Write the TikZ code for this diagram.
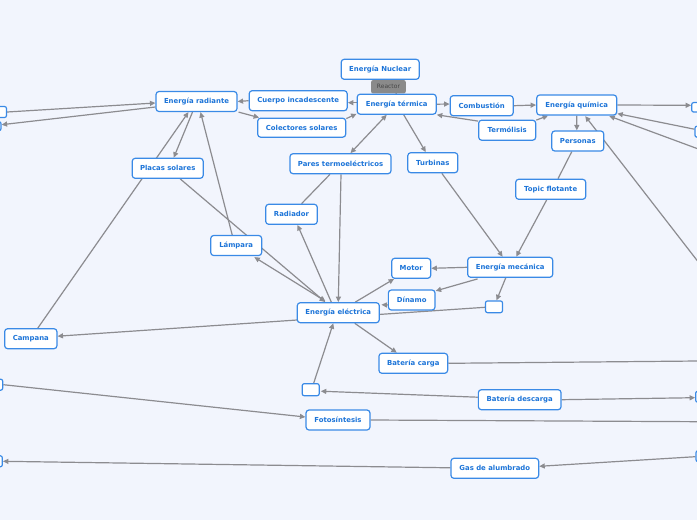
\documentclass[tikz,border=0pt]{standalone}
\usepackage{fontspec}
\setmainfont{DejaVu Sans}
\usetikzlibrary{arrows.meta,calc}
\definecolor{bgc}{RGB}{242,245,253}
\definecolor{nodeb}{RGB}{58,138,230}
\definecolor{nodet}{RGB}{28,116,216}
\definecolor{edgec}{RGB}{140,140,144}
\definecolor{reacf}{RGB}{138,138,138}
\definecolor{react}{RGB}{70,70,70}
\pgfdeclarelayer{bg}
\pgfdeclarelayer{edges}
\pgfsetlayers{bg,edges,main}
\begin{document}
\begin{tikzpicture}[x=1pt,y=-1pt,
 box/.style={draw=nodeb, line width=1.2pt, fill=white, rounded corners=3pt, inner sep=0pt, minimum height=20pt, text=nodet, font=\fontsize{6.9}{8}\selectfont\bfseries},
 tinybox/.style={draw=nodeb, line width=1.2pt, fill=white, rounded corners=2pt, inner sep=0pt, minimum width=17pt, minimum height=11pt},
 conn/.style={draw=edgec, line width=1.2pt},
 arr/.style={conn, -{Triangle[length=5.5pt,width=5pt]}},
 darr/.style={conn, {Triangle[length=5.5pt,width=5pt]}-{Triangle[length=5.5pt,width=5pt]}},
 reactor/.style={fill=reacf, rounded corners=2pt, text=react, font=\fontsize{6}{7}\selectfont, minimum width=34.6pt, minimum height=13.4pt, inner sep=0pt}
]
\useasboundingbox (0,0) rectangle (697,520);
\begin{pgfonlayer}{bg}
\fill[bgc] (0,0) rectangle (697,520);
\end{pgfonlayer}

\begin{scope}
\clip (0,0) rectangle (697,520);
\node[box, minimum width=78pt] (nuc) at (380.2,69.3) {Energía Nuclear};
\node[box, minimum width=81pt] (rad) at (196.5,101.5) {Energía radiante};
\node[box, minimum width=98pt] (cue) at (298.2,100.7) {Cuerpo incadescente};
\node[box, minimum width=88pt, minimum height=19pt] (col) at (301.7,127.7) {Colectores solares};
\node[box, minimum width=79pt] (ter) at (396.7,104.2) {Energía térmica};
\node[box, minimum width=63pt] (com) at (481.7,105.7) {Combustión};
\node[box, minimum width=80pt] (qui) at (576.7,105) {Energía química};
\node[box, minimum width=57pt] (tml) at (507.2,130.2) {Termólisis};
\node[box, minimum width=52pt] (per) at (577.8,141) {Personas};
\node[box, minimum width=101pt] (par) at (340.5,163.7) {Pares termoeléctricos};
\node[box, minimum width=50pt] (tur) at (432.8,162.7) {Turbinas};
\node[box, minimum width=71pt] (pla) at (167.7,168.3) {Placas solares};
\node[box, minimum width=70pt] (top) at (550.7,189.3) {Topic flotante};
\node[box, minimum width=51.6pt] (radr) at (291.5,214.3) {Radiador};
\node[box, minimum width=51pt] (lam) at (236.2,245.5) {Lámpara};
\node[box, minimum width=39pt] (mot) at (411.2,268.3) {Motor};
\node[box, minimum width=85pt] (mec) at (510.2,267.3) {Energía mecánica};
\node[box, minimum width=46.7pt] (din) at (411.7,300) {Dínamo};
\node[tinybox, minimum height=11.7pt] (sb1) at (494,306.8) {};
\node[box, minimum width=82pt] (ele) at (338.3,312.7) {Energía eléctrica};
\node[box, minimum width=52.3pt] (cam) at (30.8,338.7) {Campana};
\node[box, minimum width=68.7pt] (bca) at (413.3,363.3) {Batería carga};
\node[tinybox, minimum height=12pt] (sb2) at (310.7,389.7) {};
\node[box, minimum width=82.7pt] (bde) at (519.7,399.7) {Batería descarga};
\node[box, minimum width=64pt] (fot) at (338,420) {Fotosíntesis};
\node[box, minimum width=87.7pt] (gas) at (494.8,468.3) {Gas de alumbrado};
\node[tinybox] (L1) at (-2,112) {};
\node[tinybox, minimum height=9pt] (L2) at (-7.5,126.2) {};
\node[tinybox] (L3) at (-5.8,384.7) {};
\node[tinybox] (L4) at (-6.2,461.3) {};
\node[tinybox, minimum height=9.5pt] (R1) at (700.2,107.3) {};
\node[tinybox] (R2) at (703.5,131.7) {};
\node[tinybox] (R3) at (704.2,396.7) {};
\node[tinybox] (R4) at (704.5,456.2) {};
\end{scope}

\coordinate (RE1) at (720,157);
\coordinate (RE2) at (720,290);
\coordinate (RE3) at (720,360.8);
\coordinate (RE4) at (720,421.8);

\begin{pgfonlayer}{edges}
\clip (0,0) rectangle (697,520);
\draw[arr] (L1.east) -- ($(rad.west)+(0,1.5)$);
\draw[arr] ($(rad.west)+(0,5.5)$) -- ($(L2.east)+(0,-1.5)$);
\draw[arr] (cue.west) -- (rad.east);
\draw[arr] ($(rad.south east)+(1,0)$) -- ($(col.north west)+(2,0)$);
\draw[arr] ($(ter.west)+(0,-1.5)$) -- ($(cue.east)+(0,2)$);
\draw[arr] ($(col.north east)+(0,1)$) -- ($(ter.south west)+(0,-1)$);
\draw[conn] (nuc.south) -- node[reactor] (rea) {Reactor} (ter.north);
\draw[arr] (ter.east) -- ($(com.west)+(0,-1.7)$);
\draw[arr] (com.east) -- (qui.west);
\draw[arr] ($(tml.north west)+(0,1.5)$) -- (ter.south east);
\draw[arr] ($(tml.north east)+(0,0.5)$) -- ($(qui.south west)+(12,0)$);
\draw[arr] (qui.south) -- ($(per.north)+(-1,0)$);
\draw[arr] (qui.east) -- ($(R1.west)+(0,-2)$);
\draw[arr] ($(R2.west)+(0,-2.5)$) -- ($(qui.south east)+(0,-2)$);
\draw[arr] (RE1) -- ($(qui.south east)+(-8,0.5)$);
\draw[arr] (RE2) -- ($(qui.south)+(8.5,0.5)$);
\draw[conn] ($(per.south)+(-6,0)$) -- ($(top.north)+(7.3,0)$);
\draw[arr] ($(top.south)+(-4,0)$) -- ($(mec.north)+(6,0)$);
\draw[arr] ($(tur.south)+(9,0)$) -- ($(mec.north)+(-7.5,0)$);
\draw[arr] ($(ter.south)+(7,0)$) -- ($(tur.north)+(-7,0)$);
\draw[darr] ($(ter.south)+(-10,0)$) -- ($(par.north)+(10,0)$);
\draw[conn] ($(par.south)+(-10.5,0)$) -- ($(radr.north)+(10,0)$);
\draw[arr] ($(par.south)+(0.5,0)$) -- (ele.north);
\draw[arr] ($(ele.north)+(-7,0)$) -- ($(radr.south)+(6,0)$);
\draw[arr] ($(rad.south)+(-4,0)$) -- ($(pla.north)+(6,0)$);
\draw[arr] ($(cam.north)+(7,0)$) -- ($(rad.south)+(-8,0)$);
\draw[arr] ($(lam.north)+(-4,0)$) -- ($(rad.south)+(4,0)$);
\draw[arr] ($(pla.south)+(12.5,0)$) -- ($(ele.north)+(-13,0)$);
\draw[darr] ($(lam.south east)+(-8,1)$) -- ($(ele.north)+(-13,-1)$);
\draw[arr] ($(ele.north)+(17,0)$) -- ($(mot.south west)+(3,0)$);
\draw[arr] ($(din.west)+(0,5)$) -- ($(ele.east)+(1.5,-8)$);
\draw[arr] (mec.west) -- (mot.east);
\draw[arr] ($(mec.south west)+(10.5,1)$) -- ($(din.north east)+(0,1.5)$);
\draw[arr] ($(mec.south)+(-4.5,0)$) -- ($(sb1.north)+(2.5,0)$);
\draw[arr] ($(sb1.west)+(0,0.5)$) -- ($(cam.east)+(0,-2.5)$);
\draw[arr] ($(ele.south)+(16.5,0)$) -- ($(bca.north)+(-16.5,0)$);
\draw[conn] (bca.east) -- (RE3);
\draw[arr] ($(sb2.north)+(3,0)$) -- ($(ele.south)+(-5,0)$);
\draw[arr] ($(bde.west)+(0,-2.5)$) -- ($(sb2.east)+(1,1.5)$);
\draw[arr] (bde.east) -- ($(R3.west)+(0,1)$);
\draw[arr] (L3.east) -- ($(fot.west)+(0,-3)$);
\draw[conn] (fot.east) -- (RE4);
\draw[arr] ($(R4.west)+(0,0.5)$) -- ($(gas.east)+(0,-2)$);
\draw[arr] ($(gas.west)+(0,-0.5)$) -- (L4.east);
\end{pgfonlayer}
\end{tikzpicture}
\end{document}
